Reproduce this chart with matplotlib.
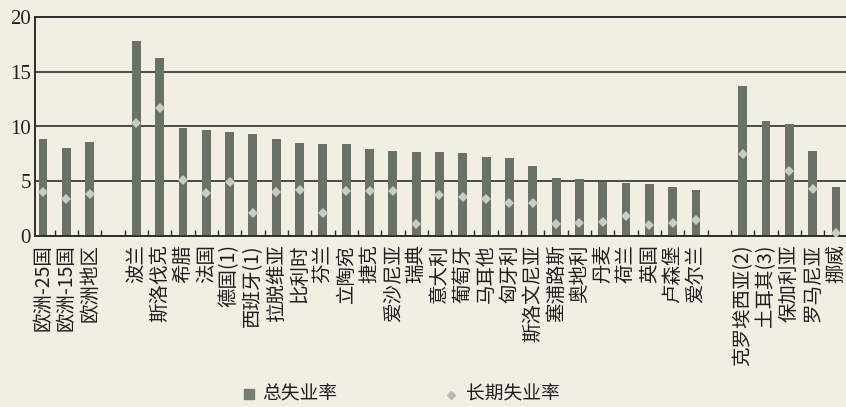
import numpy as np
import matplotlib
matplotlib.use("Agg")
import matplotlib.pyplot as plt
from matplotlib.lines import Line2D

plt.rcParams['font.family'] = ['Noto Sans CJK SC', 'DejaVu Sans']

categories = ["欧洲-25国", "欧洲-15国", "欧洲地区", "",
              "波兰", "斯洛伐克", "希腊", "法国", "德国(1)", "西班牙(1)", "拉脱维亚",
              "比利时", "芬兰", "立陶宛", "捷克", "爱沙尼亚", "瑞典", "意大利", "葡萄牙",
              "马耳他", "匈牙利", "斯洛文尼亚", "塞浦路斯", "奥地利", "丹麦", "荷兰",
              "英国", "卢森堡", "爱尔兰", "",
              "克罗埃西亚(2)", "土耳其(3)", "保加利亚", "罗马尼亚", "挪威"]

total_rate = [8.9, 8.0, 8.6, np.nan,
              17.8, 16.3, 9.9, 9.7, 9.5, 9.3, 8.9,
              8.5, 8.4, 8.4, 7.9, 7.8, 7.7, 7.7, 7.6,
              7.2, 7.1, 6.4, 5.3, 5.2, 4.9, 4.8,
              4.75, 4.5, 4.2, np.nan,
              13.7, 10.5, 10.2, 7.8, 4.5]

longterm_rate = [4.0, 3.4, 3.8, np.nan,
                 10.3, 11.7, 5.1, 3.9, 4.9, 2.1, 4.0,
                 4.2, 2.1, 4.15, 4.1, 4.1, 1.1, 3.7, 3.6,
                 3.4, 3.0, 3.0, 1.1, 1.2, 1.3, 1.85,
                 1.0, 1.2, 1.5, np.nan,
                 7.5, np.nan, 5.9, 4.3, 0.3]

yticks = [0, 5, 10, 15, 20]
legend_labels = ["总失业率", "长期失业率"]

paper = "#f1efe4"
bar_color = "#6a7268"
dot_color = "#c9ccc3"
line_color = "#2e2e2e"

W, H = 846, 407
fig = plt.figure(figsize=(W / 100, H / 100), dpi=100, facecolor=paper)
ax = fig.add_axes([35 / W, 1 - 236 / H, (W - 35) / W, (236 - 17) / H])
ax.set_facecolor(paper)

x = np.arange(len(categories))
ax.bar(x, total_rate, width=0.38, color=bar_color, zorder=2)
ax.plot(x, longterm_rate, linestyle="none", marker="D", markersize=5.5,
        color=dot_color, markeredgewidth=0, zorder=3)

ax.set_xlim(-0.343, 34.43)
ax.set_ylim(0, 20)
ax.set_yticks(yticks)
ax.set_yticklabels([str(v) for v in yticks], family="Liberation Serif",
                   fontsize=15, color="#222222")
ax.tick_params(axis="y", length=0, pad=3)

ax.set_xticks(x)
ax.set_xticklabels(categories, rotation=90, fontsize=14, color="#1e1e1e",
                   va="top", ha="center")
ax.tick_params(axis="x", which="major", length=0, pad=6)
ax.set_xticks(np.arange(0.5, len(categories) - 0.5, 1.0), minor=True)
ax.tick_params(axis="x", which="minor", direction="in", length=4,
               width=1.0, color=line_color)

ax.grid(axis="y", color=line_color, linewidth=1.2, zorder=1)
ax.set_axisbelow(True)
for side in ["left", "bottom", "top"]:
    ax.spines[side].set_color(line_color)
    ax.spines[side].set_linewidth(1.4)
ax.spines["right"].set_visible(False)

# legend
fig.add_artist(Line2D([249 / W], [1 - 394 / H], transform=fig.transFigure,
                      marker="s", markersize=6.5, color="#777d75",
                      linestyle="none"))
fig.text(262 / W, 1 - 394 / H, legend_labels[0], fontsize=13.5,
         va="center", ha="left", color="#1e1e1e")
fig.add_artist(Line2D([451 / W], [1 - 395 / H], transform=fig.transFigure,
                      marker="D", markersize=4, color="#b7bab2",
                      linestyle="none"))
fig.text(466 / W, 1 - 394 / H, legend_labels[1], fontsize=13.5,
         va="center", ha="left", color="#1e1e1e")

fig.savefig("out.png", dpi=100, facecolor=paper)
